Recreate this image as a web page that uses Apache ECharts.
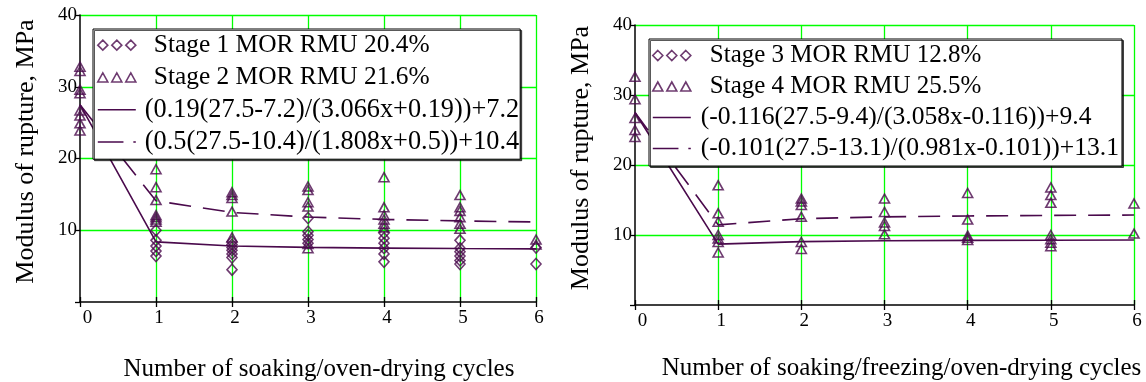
<!DOCTYPE html>
<html><head><meta charset="utf-8">
<script src="https://cdn.jsdelivr.net/npm/echarts@6/dist/echarts.min.js"></script>
<style>html,body{margin:0;padding:0;background:#fff}#c{width:1146px;height:382px}</style>
</head><body><div id="c"></div>
<script>
// ---------- data ----------
const cycleTicks = [0, 1, 2, 3, 4, 5, 6];
const morTicks = [0, 10, 20, 30, 40];
const leftXTitle = 'Number of soaking/oven-drying cycles';
const rightXTitle = 'Number of soaking/freezing/oven-drying cycles';
const yTitle = 'Modulus of rupture, MPa';
const names = [
  'Stage 1 MOR RMU 20.4%',
  'Stage 2 MOR RMU 21.6%',
  '(0.19(27.5-7.2)/(3.066x+0.19))+7.2',
  '(0.5(27.5-10.4)/(1.808x+0.5))+10.4',
  'Stage 3 MOR RMU 12.8%',
  'Stage 4 MOR RMU 25.5%',
  '(-0.116(27.5-9.4)/(3.058x-0.116))+9.4',
  '(-0.101(27.5-13.1)/(0.981x-0.101))+13.1'
];
// measured points [cycle, MOR MPa]
const stage1 = [
  [1,10.0],[1,8.6],[1,7.8],[1,7.1],[1,6.4],
  [2,8.4],[2,8.0],[2,7.6],[2,7.2],[2,6.7],[2,6.2],[2,4.5],
  [3,11.7],[3,9.8],[3,9.3],[3,8.7],[3,8.2],
  [4,9.6],[4,8.9],[4,8.2],[4,7.5],[4,6.7],[4,5.6],
  [5,8.6],[5,7.5],[5,7.0],[5,6.4],[5,5.8],[5,5.3],
  [6,7.6],[6,5.3]
];
const stage2 = [
  [0,32.8],[0,32.2],[0,29.6],[0,29.1],[0,26.7],[0,26.0],[0,24.9],[0,23.9],
  [1,18.5],[1,16.0],[1,14.2],[1,12.1],[1,11.8],[1,11.5],[1,11.2],
  [2,15.3],[2,14.9],[2,14.5],[2,12.6],[2,9.0],
  [3,16.1],[3,15.6],[3,13.9],[3,13.3],[3,8.1],[3,7.5],
  [4,17.4],[4,13.2],[4,12.1],[4,11.5],[4,10.9],[4,10.4],
  [5,14.9],[5,13.2],[5,12.7],[5,11.8],[5,10.9],[5,10.2],
  [6,8.7],[6,8.0]
];
const stage3 = [
  [1,10.0],[1,9.5],[1,9.0],[1,7.5],
  [2,9.0],[2,8.0],
  [3,11.3],[3,10.1],
  [4,9.9],[4,9.6],[4,9.3],
  [5,10.0],[5,9.4],[5,8.9],[5,8.4],
  [6,10.2]
];
const stage4 = [
  [0,32.6],[0,29.4],[0,26.7],[0,25.0],[0,24.0],
  [1,17.1],[1,13.1],[1,11.9],
  [2,15.2],[2,14.8],[2,14.3],[2,12.6],
  [3,15.2],[3,13.3],[3,11.8],
  [4,16.0],[4,12.2],
  [5,16.8],[5,15.7],[5,14.6],
  [6,14.5]
];
// fitted curves read at each cycle
const fitCycles = [0, 1, 2, 3, 4, 5, 6];
const fit1 = [27.5, 8.38, 7.81, 7.61, 7.51, 7.45, 7.41];
const fit2 = [27.5, 14.10, 12.48, 11.84, 11.51, 11.30, 11.15];
const fit3 = [27.5, 8.69, 9.05, 9.17, 9.23, 9.26, 9.29];
const fit4 = [27.5, 11.45, 12.32, 12.59, 12.72, 12.80, 12.85];

// ---------- styling ----------
const P = '#4a0a4c';
const FONT = 'Liberation Serif';
const GREEN = '#00ff00';
const pair = (xs, ys) => xs.map((x, i) => [x, ys[i]]);

const triIcon = 'path://M5,0L10,9L0,9Z M19,0L24,9L14,9Z M33,0L38,9L28,9Z';
const diaIcon = 'path://M5,0L10,5L5,10L0,5Z M19,0L24,5L19,10L14,5Z M33,0L38,5L33,10L28,5Z';
const solidIcon = 'path://M0,0L38,0L38,1.6L0,1.6Z';
const dashIcon = 'path://M0,0L26,0L26,1.6L0,1.6Z M36,0L38.5,0L38.5,1.6L36,1.6Z';
const hollow = { color: 'rgba(0,0,0,0)', borderColor: P, borderWidth: 1.6 };
const filled = { color: P, borderWidth: 0 };

function xAxisMain(grid, title, pad, gap) {
  return {
    type: 'value', gridIndex: grid, min: cycleTicks[0], max: cycleTicks[cycleTicks.length - 1], interval: 1,
    axisLine: { onZero: false, lineStyle: { color: '#000', width: 1.5 } },
    axisTick: { show: true, length: 5, lineStyle: { color: '#000', width: 1.3 } },
    axisLabel: {
      margin: 7, color: '#000', fontFamily: FONT, fontSize: 19,
      formatter: v => v === 0 ? '{z|0}' : '{n|' + v + '}',
      rich: { z: { padding: [0, 0, 0, 15], fontFamily: FONT, fontSize: 19, color: '#000' },
              n: { padding: [0, 0, 0, 6], fontFamily: FONT, fontSize: 19, color: '#000' } }
    },
    splitLine: { show: true, showMinLine: false, lineStyle: { color: GREEN, width: 1.3 } },
    name: title, nameLocation: 'middle', nameGap: gap,
    nameTextStyle: { color: '#000', fontFamily: FONT, fontSize: 25, padding: [0, 0, 0, pad] }
  };
}
function xAxisInner(grid) {
  return {
    type: 'value', gridIndex: grid, position: 'bottom', min: 0, max: 6, interval: 1,
    axisLine: { show: false }, axisLabel: { show: false }, splitLine: { show: false },
    axisTick: { show: true, inside: true, length: 5, lineStyle: { color: '#000', width: 1.3 } }
  };
}
function yAxisMain(grid) {
  return {
    type: 'value', gridIndex: grid, min: morTicks[0], max: morTicks[morTicks.length - 1], interval: 10,
    axisLine: { onZero: false, lineStyle: { color: '#000', width: 1.5 } },
    axisTick: { show: true, length: 5, lineStyle: { color: '#000', width: 1.3 } },
    axisLabel: { margin: 3, color: '#000', fontFamily: FONT, fontSize: 19, padding: [7, 0, 0, 0],
                 formatter: v => v === 0 ? '' : String(v) },
    splitLine: { show: true, showMinLine: false, lineStyle: { color: GREEN, width: 1.3 } },
    name: yTitle, nameLocation: 'middle', nameGap: 41,
    nameTextStyle: { color: '#000', fontFamily: FONT, fontSize: 26, padding: [0, 0, 0, 14] }
  };
}
function scatter(name, data, xi, yi, symbol, size) {
  return { type: 'scatter', name, data, xAxisIndex: xi, yAxisIndex: yi, symbol, symbolSize: size,
           itemStyle: hollow, z: 3, animation: false };
}
function fitLine(name, ys, xi, yi, dash) {
  return { type: 'line', name, data: pair(fitCycles, ys), xAxisIndex: xi, yAxisIndex: yi,
           symbol: 'none', itemStyle: { color: P },
           lineStyle: { color: P, width: 1.6, type: dash ? [22, 12] : 'solid' }, z: 2, animation: false };
}
function legend(items, left, top, lh, padF, padS, fsF, fsS, padding) {
  return {
    orient: 'vertical', left, top, itemWidth: 38, itemHeight: 10, itemGap: 0, padding,
    selectedMode: false, backgroundColor: '#fff', borderColor: '#000', borderWidth: 1,
    shadowColor: 'rgba(0,0,0,0.65)', shadowOffsetX: 1.5, shadowOffsetY: 1.5, shadowBlur: 0,
    data: items,
    formatter: n => (n.indexOf('Stage') === 0 ? '{s|' : '{f|') + n + '}',
    textStyle: {
      color: '#000', fontFamily: FONT, fontSize: 25, lineHeight: lh,
      rich: {
        s: { color: '#000', fontFamily: FONT, fontSize: fsS, lineHeight: lh, padding: [0, 0, 0, padS] },
        f: { color: '#000', fontFamily: FONT, fontSize: fsF, lineHeight: lh, padding: [0, 0, 0, padF] }
      }
    }
  };
}

const chart = echarts.init(document.getElementById('c'), null, { renderer: 'canvas' });
chart.setOption({
  backgroundColor: '#fff',
  animation: false,
  grid: [
    { left: 80, top: 15, width: 456, height: 287, outerBoundsMode: 'none', containLabel: false },
    { left: 635, top: 25, width: 499, height: 280, outerBoundsMode: 'none', containLabel: false }
  ],
  xAxis: [xAxisMain(0, leftXTitle, 22, 55), xAxisMain(1, rightXTitle, 34, 51), xAxisInner(0), xAxisInner(1)],
  yAxis: [yAxisMain(0), yAxisMain(1)],
  legend: [
    legend([
      { name: names[0], icon: diaIcon, itemStyle: hollow },
      { name: names[1], icon: triIcon, itemStyle: hollow },
      { name: names[2], icon: solidIcon, itemStyle: filled },
      { name: names[3], icon: dashIcon, itemStyle: filled }
    ], 93, 29, 32.3, 4, 13, 26.3, 25.4, [0, 1, 1, 4]),
    legend([
      { name: names[4], icon: diaIcon, itemStyle: hollow },
      { name: names[5], icon: triIcon, itemStyle: hollow },
      { name: names[6], icon: solidIcon, itemStyle: filled },
      { name: names[7], icon: dashIcon, itemStyle: filled }
    ], 649, 39, 31, 5, 14, 25.6, 25, [1, 3, 2, 3])
  ],
  series: [
    scatter(names[0], stage1, 0, 0, 'diamond', [10, 11]),
    scatter(names[1], stage2, 0, 0, 'triangle', [10, 9]),
    fitLine(names[2], fit1, 0, 0, false),
    fitLine(names[3], fit2, 0, 0, true),
    scatter(names[4], stage3, 1, 1, 'triangle', [10, 9]),
    scatter(names[5], stage4, 1, 1, 'triangle', [10, 9]),
    fitLine(names[6], fit3, 1, 1, false),
    fitLine(names[7], fit4, 1, 1, true)
  ]
});
</script>
</body></html>
